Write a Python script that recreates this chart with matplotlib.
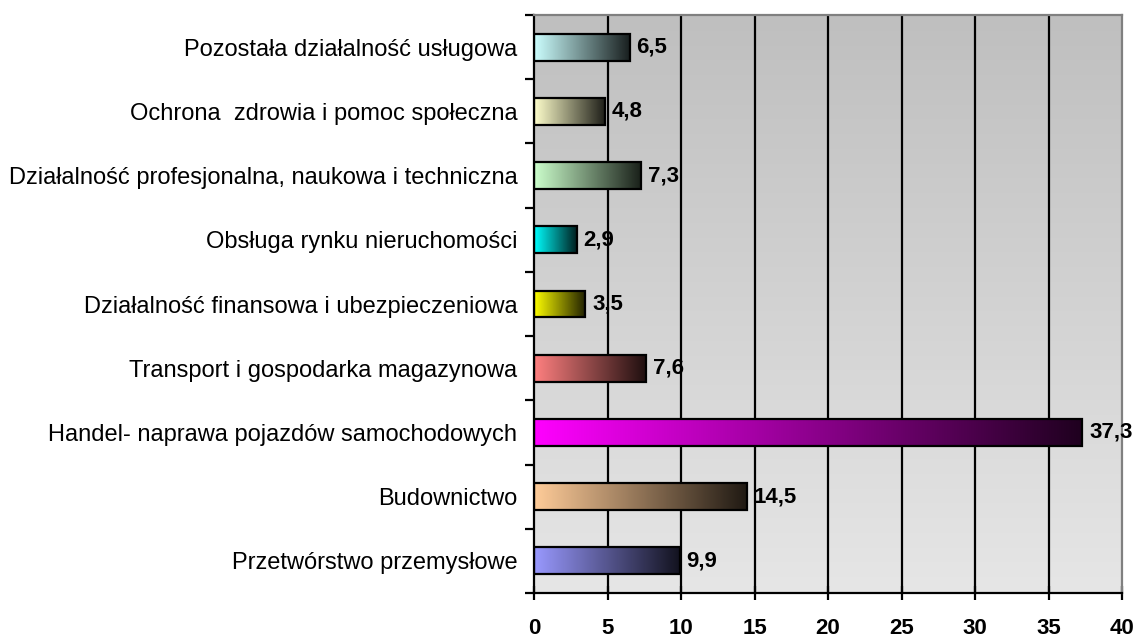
import numpy as np
import matplotlib.pyplot as plt
from matplotlib.colors import LinearSegmentedColormap, to_rgb

categories = [
    'Przetwórstwo przemysłowe',
    'Budownictwo',
    'Handel- naprawa pojazdów samochodowych',
    'Transport i gospodarka magazynowa',
    'Działalność finansowa i ubezpieczeniowa',
    'Obsługa rynku nieruchomości',
    'Działalność profesjonalna, naukowa i techniczna',
    'Ochrona  zdrowia i pomoc społeczna',
    'Pozostała działalność usługowa',
]
values = [9.9, 14.5, 37.3, 7.6, 3.5, 2.9, 7.3, 4.8, 6.5]
labels = ['9,9', '14,5', '37,3', '7,6', '3,5', '2,9', '7,3', '4,8', '6,5']
bar_colors = ['#9999ff', '#ffcc99', '#ff00ff', '#ff8080', '#ffff00',
              '#00ffff', '#ccffcc', '#ffffcc', '#ccffff']
xticks = [0, 5, 10, 15, 20, 25, 30, 35, 40]

plt.rcParams['font.family'] = ['Liberation Sans', 'DejaVu Sans']

fig = plt.figure(figsize=(11.4, 6.37), dpi=100)
ax = fig.add_axes([534 / 1140, 1 - 593 / 637, 588 / 1140, 578 / 637])

ax.set_xlim(0, 40)
ax.set_ylim(-0.5, len(categories) - 0.5)

# background gradient: darker grey at top, lighter at bottom
bg = LinearSegmentedColormap.from_list('bg', ['#e6e6e6', '#bfbfbf'])
ax.imshow(np.linspace(0, 1, 256).reshape(-1, 1), cmap=bg, aspect='auto',
          extent=[0, 40, -0.5, len(categories) - 0.5], origin='lower', zorder=0)

# vertical grid lines
for x in xticks[1:-1]:
    ax.axvline(x, color='black', linewidth=1.6, zorder=1)

h = 0.42
for i, (v, c) in enumerate(zip(values, bar_colors)):
    rgb = np.array(to_rgb(c))
    cmap = LinearSegmentedColormap.from_list('g%d' % i, [rgb, rgb * 0.12])
    ax.imshow(np.linspace(0, 1, 256).reshape(1, -1), cmap=cmap, aspect='auto',
              extent=[0, v, i - h / 2, i + h / 2], zorder=2)
ax.barh(range(len(values)), values, height=h, fill=False,
        edgecolor='black', linewidth=1.6, zorder=3)

for i, (v, t) in enumerate(zip(values, labels)):
    ax.annotate(t, (v, i), xytext=(5, 0), textcoords='offset points',
                va='center', ha='left', fontsize=16, fontweight='bold', zorder=4,
                annotation_clip=False)

ax.set_yticks(range(len(categories)))
ax.set_yticklabels(categories, fontsize=17)
ax.set_yticks(np.arange(-0.5, len(categories)), minor=True)
ax.tick_params(axis='y', which='major', length=0, pad=12)
ax.tick_params(axis='y', which='minor', length=6.5, width=1.6, direction='out')

ax.set_xticks(xticks)
ax.set_xticklabels([str(x) for x in xticks], fontsize=16, fontweight='bold')
ax.tick_params(axis='x', length=10, width=1.6, direction='inout', pad=13)

ax.spines['left'].set_linewidth(1.6)
ax.spines['bottom'].set_linewidth(1.6)
ax.spines['top'].set_color('#808080')
ax.spines['right'].set_color('#808080')
ax.spines['top'].set_linewidth(1.6)
ax.spines['right'].set_linewidth(1.6)

fig.savefig('out.png', dpi=100)
